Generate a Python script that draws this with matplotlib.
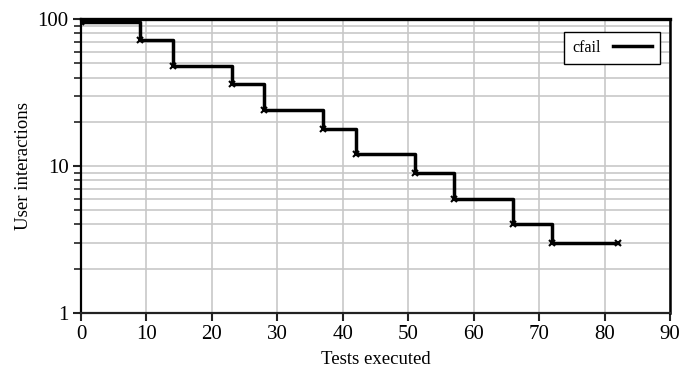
import numpy as np
import matplotlib
matplotlib.use('Agg')
import matplotlib.pyplot as plt
from matplotlib.ticker import FixedLocator, NullFormatter, FixedFormatter

# data
tests = [0, 9, 14, 23, 28, 37, 42, 51, 57, 66, 72, 82]
interactions = [95, 72, 48, 36, 24, 18, 12, 9, 6, 4, 3, 3]

plt.rcParams['font.family'] = ['Liberation Serif', 'DejaVu Serif']
plt.rcParams['font.size'] = 13

fig = plt.figure(figsize=(6.81, 3.76), dpi=100)
ax = fig.add_axes([0.119, 0.168, 0.865, 0.781])

ax.step(tests, interactions, where='post', color='black', lw=2.5,
        label='cfail', zorder=3)
ax.plot(tests, interactions, ls='none', marker='x', color='black',
        ms=5, mew=1.5, zorder=4)

ax.set_yscale('log')
ax.set_xlim(0, 90)
ax.set_ylim(1, 100)
ax.set_xticks(range(0, 91, 10))
ax.yaxis.set_major_locator(FixedLocator([1, 10, 100]))
ax.yaxis.set_major_formatter(FixedFormatter(['1', '10', '100']))
minors = [m * d for d in (1, 10) for m in range(2, 10)]
ax.yaxis.set_minor_locator(FixedLocator(minors))
ax.yaxis.set_minor_formatter(NullFormatter())

ax.grid(True, which='major', color='#c8c8c8', lw=1.2)
ax.grid(True, which='minor', axis='y', color='#c8c8c8', lw=1.2)
ax.set_axisbelow(True)

ax.tick_params(axis='both', which='major', direction='out', length=6,
               width=1.5, color='#222222', labelsize=15, pad=3)
ax.tick_params(axis='y', which='minor', direction='out', length=5,
               width=1.2, color='#222222')

ax.spines['top'].set_linewidth(2.4)
ax.spines['right'].set_linewidth(1.8)
ax.spines['left'].set_linewidth(1.6)
ax.spines['bottom'].set_linewidth(1.6)
for s in ax.spines.values():
    s.set_color('black')
ax.spines['bottom'].set_color('#222222')

ax.set_xlabel('Tests executed', fontsize=13.5, labelpad=5)
ax.set_ylabel('User interactions', fontsize=13.5, labelpad=4)

leg = ax.legend(loc='upper right', markerfirst=False, fancybox=False,
                edgecolor='black', framealpha=1, fontsize=11.5,
                handlelength=2.4, borderpad=0.5,
                bbox_to_anchor=(0.996, 0.985))
leg.get_frame().set_linewidth(1.0)

fig.savefig('out.png', dpi=100)
